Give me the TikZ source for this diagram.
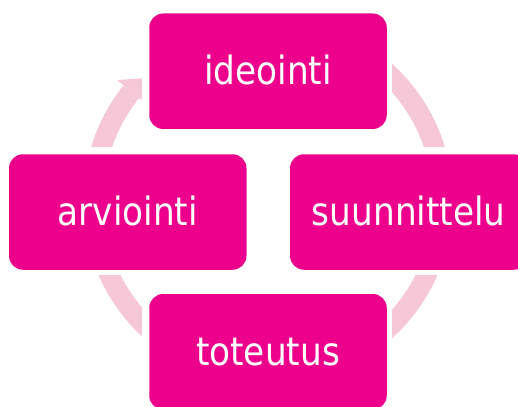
\documentclass[tikz,border=0pt]{standalone}
\usepackage{fontspec}
\setmainfont{DejaVu Sans}[FakeStretch=0.88]
\usetikzlibrary{backgrounds,calc}
\definecolor{boxmag}{RGB}{236,0,140}
\definecolor{ringpink}{RGB}{246,199,215}
\tikzset{
  stage/.style={fill=boxmag, rounded corners=14pt, minimum width=237.5pt,
    minimum height=115.5pt, inner sep=0pt, text=white,
    font=\fontsize{39}{41}\selectfont, text height=27.5pt, text depth=0pt},
  ring/.style={draw=ringpink, line width=20pt},
  mask/.style={fill=white}
}
\begin{document}
\begin{tikzpicture}[x=1pt,y=-1pt]
\useasboundingbox (0,0) rectangle (518,406);
\clip (0,0) rectangle (518,406);
\coordinate (c) at (268,201);
\node[stage] (ide) at (268,71.25) {ideointi};
\node[stage] (suu) at (408.75,212) {suunnittelu};
\node[stage] (tot) at (268,351.75) {toteutus};
\node[stage] (arv) at (127.75,212) {arviointi};
\begin{scope}[on background layer]
  \draw[ring] ($(c)+(-60:175)$) arc[start angle=-60, end angle=-5, radius=175];
  \draw[ring] ($(c)+(5:175)$) arc[start angle=5, end angle=60, radius=175];
  \draw[ring] ($(c)+(120:175)$) arc[start angle=120, end angle=175, radius=175];
  \draw[ring] ($(c)+(-175:175)$) arc[start angle=-175, end angle=-141.3, radius=175];
  \fill[ringpink] ($(c)+(-141.3:193.5)$) -- ($(c)+(-141.3:175)+(-51.3:17)$)
    -- ($(c)+(-141.3:156.5)$) -- cycle;
  \foreach \n in {ide,suu,tot,arv}{
    \fill[mask] ($(\n)+(-125.75,-64.75)$) rectangle ($(\n)+(123.75,62.75)$);
  }
\end{scope}
\end{tikzpicture}
\end{document}
